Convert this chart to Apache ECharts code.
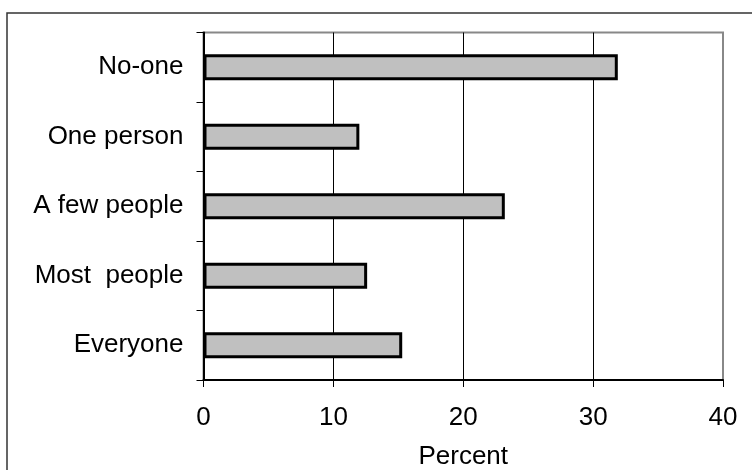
<!DOCTYPE html>
<html>
<head>
<meta charset="utf-8">
<script src="https://cdn.jsdelivr.net/npm/echarts@6/dist/echarts.min.js"></script>
<style>
html,body{margin:0;padding:0;background:#fff;}
#c{width:752px;height:470px;}
</style>
</head>
<body>
<div id="c"></div>
<script>
const categories = ['No-one', 'One person', 'A few people', 'Most  people', 'Everyone'];
const values = [31.9, 12.0, 23.2, 12.6, 15.3];
const xTicks = [0, 10, 20, 30, 40];
const axisTitle = 'Percent';

const chart = echarts.init(document.getElementById('c'), null, {renderer: 'canvas'});
const font = '"Liberation Sans", Arial, sans-serif';
chart.setOption({
  animation: false,
  backgroundColor: '#fff',
  textStyle: {fontFamily: font},
  graphic: [{
    type: 'rect',
    shape: {x: 7, y: 13, width: 800, height: 500},
    style: {fill: 'none', stroke: '#333', lineWidth: 1.5},
    silent: true, z: 100
  }],
  grid: {
    left: 203.5, right: 29, top: 32.5, bottom: 90,
    containLabel: false, outerBoundsMode: 'none',
    show: true, borderColor: '#888', borderWidth: 2, backgroundColor: 'transparent'
  },
  xAxis: {
    type: 'value',
    min: xTicks[0], max: xTicks[xTicks.length - 1], interval: xTicks[1] - xTicks[0],
    name: axisTitle, nameLocation: 'middle', nameGap: 64,
    nameTextStyle: {fontSize: 26, color: '#000', fontFamily: font},
    axisLine: {show: true, lineStyle: {color: '#000', width: 2}},
    axisTick: {show: true, inside: false, length: 7, lineStyle: {color: '#000', width: 1}},
    axisLabel: {fontSize: 26, color: '#000', margin: 25, fontFamily: font},
    splitLine: {show: true, showMinLine: false, showMaxLine: false, lineStyle: {color: '#000', width: 1}}
  },
  yAxis: {
    type: 'category',
    data: categories,
    inverse: true,
    axisLine: {show: true, lineStyle: {color: '#000', width: 2}},
    axisTick: {show: true, inside: false, length: 7, lineStyle: {color: '#000', width: 1}},
    axisLabel: {fontSize: 26, color: '#000', margin: 20, fontFamily: font},
    splitLine: {show: false}
  },
  series: [{
    type: 'bar',
    data: values,
    barWidth: 26,
    itemStyle: {color: '#c0c0c0', borderColor: '#000', borderWidth: 3}
  }]
});
</script>
</body>
</html>
